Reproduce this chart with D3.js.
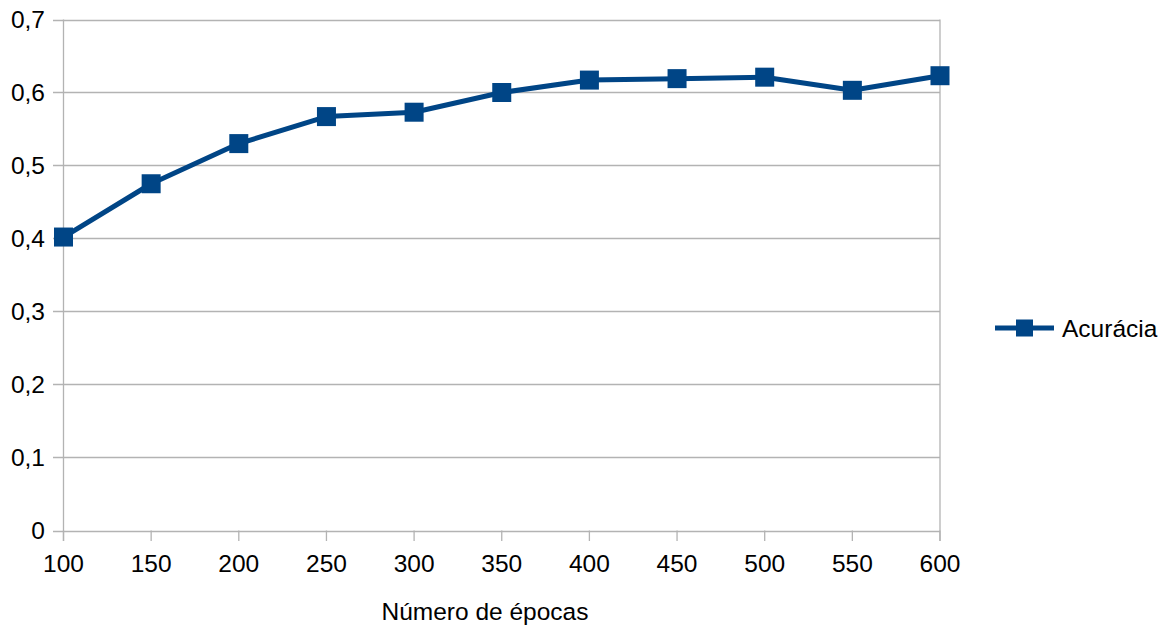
<!DOCTYPE html>
<html><head><meta charset="utf-8">
<script src="https://cdn.jsdelivr.net/npm/d3@7"></script>
<style>body{margin:0;background:#fff;} text{font-family:"Liberation Sans",Arial,sans-serif;fill:#000;}</style>
</head><body><svg id="c" width="1176" height="628"></svg>
<script>
const epochs = [100,150,200,250,300,350,400,450,500,550,600];
const accuracy = [0.402,0.475,0.530,0.567,0.573,0.600,0.617,0.619,0.621,0.603,0.623];
const yTicks = [0,0.1,0.2,0.3,0.4,0.5,0.6,0.7];
const seriesName = "Acurácia";
const xTitle = "Número de épocas";

const svg = d3.select("#c");
const x = d3.scaleLinear().domain([100,600]).range([63.5,940]);
const y = d3.scaleLinear().domain([0,0.7]).range([530.5,19.5]);
const fmt = d => d3.format(".1f")(d).replace(".",",").replace(/^0,0$/,"0");
const grid = "#b3b3b3", blue = "#004586";
const fs = 24.5;

svg.append("g").selectAll("line").data(yTicks).join("line")
  .attr("x1",53).attr("x2",940).attr("y1",d=>Math.round(y(d))+0.5).attr("y2",d=>Math.round(y(d))+0.5)
  .attr("stroke",grid).attr("stroke-width",1.3);
svg.append("line").attr("x1",63.5).attr("x2",63.5).attr("y1",y(0.7)).attr("y2",541).attr("stroke",grid).attr("stroke-width",1.3);
svg.append("line").attr("x1",940).attr("x2",940).attr("y1",y(0.7)).attr("y2",541).attr("stroke",grid).attr("stroke-width",1.3);
svg.append("g").selectAll("line").data(epochs).join("line")
  .attr("x1",d=>x(d)).attr("x2",d=>x(d)).attr("y1",y(0)).attr("y2",541)
  .attr("stroke",grid).attr("stroke-width",1.3);
svg.append("g").selectAll("text").data(yTicks).join("text")
  .attr("x",45).attr("y",d=>y(d)).attr("dy","0.35em").attr("text-anchor","end")
  .attr("font-size",fs).text(fmt);
svg.append("g").selectAll("text").data(epochs).join("text")
  .attr("x",d=>x(d)).attr("y",572).attr("text-anchor","middle")
  .attr("font-size",fs).text(d=>d);
svg.append("text").attr("x",485).attr("y",620).attr("text-anchor","middle").attr("font-size",fs).text(xTitle);

svg.append("path").datum(epochs.map((e,i)=>[e,accuracy[i]]))
  .attr("d",d3.line().x(d=>x(d[0])).y(d=>y(d[1])))
  .attr("fill","none").attr("stroke",blue).attr("stroke-width",5).attr("stroke-linejoin","round");
const s = 19;
svg.append("g").selectAll("rect").data(epochs).join("rect")
  .attr("x",(d)=>x(d)-s/2).attr("y",(d,i)=>y(accuracy[i])-s/2).attr("width",s).attr("height",s)
  .attr("fill",blue);

const ly = 328;
svg.append("line").attr("x1",995).attr("x2",1054).attr("y1",ly).attr("y2",ly).attr("stroke",blue).attr("stroke-width",5);
svg.append("rect").attr("x",1024.5-8.5).attr("y",ly-8.5).attr("width",17).attr("height",17).attr("fill",blue);
svg.append("text").attr("x",1062).attr("y",ly).attr("dy","0.35em").attr("font-size",fs).text(seriesName);
</script></body></html>
